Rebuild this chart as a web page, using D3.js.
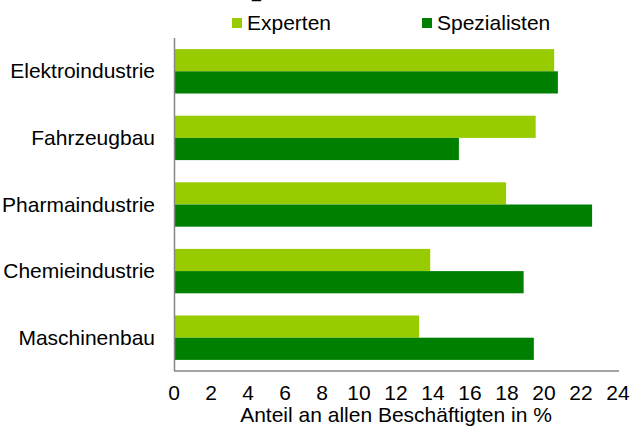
<!DOCTYPE html>
<html>
<head>
<meta charset="utf-8">
<script src="https://cdn.jsdelivr.net/npm/d3@7"></script>
<style>
  body { margin: 0; background: #fff; }
  text { font-family: "Liberation Sans", Arial, sans-serif; fill: #000; }
</style>
</head>
<body>
<svg id="chart" width="632" height="435"></svg>
<script>
var categories = ["Elektroindustrie", "Fahrzeugbau", "Pharmaindustrie", "Chemieindustrie", "Maschinenbau"];
var series = ["Experten", "Spezialisten"];
var experten = [20.55, 19.55, 17.95, 13.85, 13.25];
var spezialisten = [20.75, 15.4, 22.6, 18.9, 19.45];
var xTicks = [0, 2, 4, 6, 8, 10, 12, 14, 16, 18, 20, 22, 24];
var colors = ["#99cc00", "#008000"];

var svg = d3.select("#chart");
var margin = {top: 38, left: 174, right: 14, bottom: 64};
var width = 632 - margin.left - margin.right,
    height = 435 - margin.top - margin.bottom;
var fs = "21px";

var x = d3.scaleLinear().domain([0, 24]).range([0, 444]);
var y = d3.scaleBand().domain(categories).range([0, height])
    .paddingInner(1/3).paddingOuter(1/6);
var ySub = d3.scaleBand().domain(series).range([0, y.bandwidth()]);

var g = svg.append("g")
    .attr("transform", "translate(" + margin.left + "," + margin.top + ")");

var rows = categories.map(function(c, i) {
  return {cat: c, values: [experten[i], spezialisten[i]]};
});

var groups = g.selectAll(".cat")
  .data(rows)
  .enter().append("g")
    .attr("transform", function(d) { return "translate(0," + y(d.cat) + ")"; });

groups.selectAll("rect")
  .data(function(d) { return d.values.map(function(v, j) { return {s: series[j], v: v, j: j}; }); })
  .enter().append("rect")
    .attr("x", 1)
    .attr("y", function(d) { return ySub(d.s); })
    .attr("width", function(d) { return x(d.v) - 1; })
    .attr("height", ySub.bandwidth())
    .attr("fill", function(d) { return colors[d.j]; });

// axes lines
g.append("line")
    .attr("x1", 0.5).attr("x2", 0.5)
    .attr("y1", 0).attr("y2", height)
    .attr("stroke", "#868686").attr("stroke-width", 1.5);
g.append("line")
    .attr("x1", 0).attr("x2", x(24) + 1)
    .attr("y1", height).attr("y2", height)
    .attr("stroke", "#868686").attr("stroke-width", 1.5);

// category labels
g.selectAll(".ylab")
  .data(categories)
  .enter().append("text")
    .attr("x", -19)
    .attr("y", function(d) { return y(d) + y.bandwidth() / 2 + 7; })
    .attr("text-anchor", "end")
    .style("font-size", fs)
    .text(function(d) { return d; });

// x tick labels
g.selectAll(".xlab")
  .data(xTicks)
  .enter().append("text")
    .attr("x", function(d) { return x(d); })
    .attr("y", height + 29)
    .attr("text-anchor", "middle")
    .style("font-size", fs)
    .text(function(d) { return d; });

svg.append("text")
    .attr("x", margin.left + x(12))
    .attr("y", 422)
    .attr("text-anchor", "middle")
    .style("font-size", fs)
    .text("Anteil an allen Beschäftigten in %");

// legend
var legX = [232, 422];
var leg = svg.selectAll(".leg")
  .data(series)
  .enter().append("g")
    .attr("transform", function(d, i) { return "translate(" + legX[i] + ",18)"; });
leg.append("rect")
    .attr("width", 10).attr("height", 10)
    .attr("fill", function(d, i) { return colors[i]; });
leg.append("text")
    .attr("x", 15).attr("y", 12)
    .style("font-size", fs)
    .text(function(d) { return d; });

// cut-off title remnant at the top edge
svg.append("text")
    .attr("x", 252).attr("y", -2.5)
    .style("font-size", "16px")
    .text("_");
</script>
</body>
</html>
